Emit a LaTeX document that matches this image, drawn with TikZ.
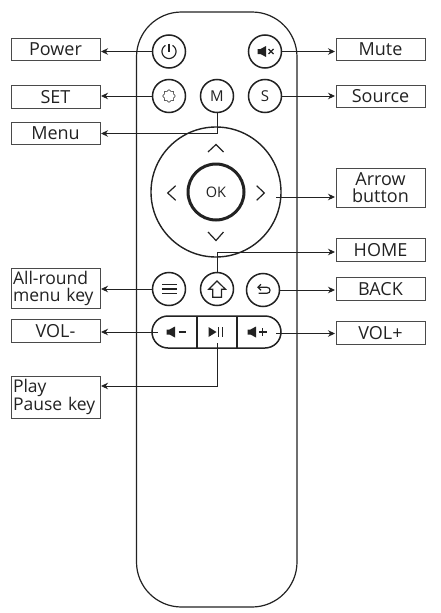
\documentclass[tikz,border=0pt]{standalone}
\usepackage{fontspec}
\setmainfont{Open Sans}
\usepackage{xcolor}
\usetikzlibrary{arrows.meta,positioning,calc}
\definecolor{RemoteInk}{HTML}{222222}
\definecolor{RemoteRule}{HTML}{4A4A4A}

\begin{document}
\begin{tikzpicture}[
  x=1pt,y=-1pt,
  shell/.style={draw=RemoteInk,line width=1.2pt,rounded corners=45pt,minimum width=160.5pt,minimum height=595pt,inner sep=0pt},
  btn/.style={circle,draw=RemoteInk,line width=1.5pt,minimum size=33pt,inner sep=0pt,text=RemoteInk,font=\fontsize{15}{15}\selectfont},
  slot/.style={inner sep=0pt,minimum width=#1,minimum height=22pt},
  keybox/.style={draw=RemoteRule,line width=1pt,minimum width=89pt,minimum height=22.5pt,inner sep=0pt,outer sep=1pt,align=center,text=RemoteInk,font=\fontsize{18}{17}\selectfont},
  tallbox/.style={keybox,text width=85pt,inner xsep=2pt,align=left,font=\fontsize{17.5}{17}\selectfont},
  lead/.style={-{Stealth[length=7pt,width=6.5pt]},draw=RemoteInk,line width=0.9pt},
  glyph/.style={draw=RemoteInk,line width=1.2pt},
  spk/.pic={\fill[RemoteInk] (-4.5,-2.5) -- (-1.5,-2.5) -- (4,-5.5) -- (4,5.5) -- (-1.5,2.5) -- (-4.5,2.5) -- cycle;}
]
\useasboundingbox (0,0) rectangle (441,613);
\node[shell] (body) at (216.75,309.5) {};

\node[btn] (power) at (169,51.5) {};
\node[btn] (mute) at (265,51.5) {};
\node[btn] (set) at (169,96) {};
\node[btn] (menu) at (217,96) {M};
\node[btn] (source) at (265,96) {S};
\node[circle,draw=RemoteInk,line width=1.4pt,minimum size=130pt,inner sep=0pt] (dpad) at (216,192) {};
\node[circle,draw=RemoteInk,line width=3pt,minimum size=56pt,inner sep=0pt,text=RemoteInk,font=\fontsize{14.5}{14.5}\selectfont] (ok) at (216,192) {OK};
\node[btn] (allround) at (169,289) {};
\node[btn] (home) at (217,289) {};
\node[btn] (back) at (263,290) {};
\node[draw=RemoteInk,line width=1.5pt,rounded corners=16pt,minimum width=129pt,minimum height=32pt,inner sep=0pt] (volbar) at (216.5,332) {};
\draw[RemoteInk,line width=1.8pt] (197,316) -- (197,348);
\draw[RemoteInk,line width=1.8pt] (237,316) -- (237,348);
\node[slot=36pt] (volminus) at (176,332) {};
\node[slot=22pt] (playbtn) at (217,332) {};
\node[slot=34pt] (volplus) at (259,333.5) {};
\coordinate (arrowout) at (276,197);

\node[keybox] (powerkey) at (55.5,49.5) {Power};
\node[keybox] (setkey) at (55.5,97) {SET};
\node[keybox] (menukey) at (55.5,133.5) {Menu};
\node[tallbox,minimum height=40pt] (allkey) at (55.5,288) {All-round\\menu key};
\node[keybox] (volmkey) at (55.5,331) {VOL-};
\node[tallbox,minimum height=42pt] (playkey) at (55.5,397) {Play\\Pause key};
\node[keybox] (mutekey) at (380.5,49.5) {Mute};
\node[keybox] (sourcekey) at (380.5,96.5) {Source};
\node[keybox,minimum height=39pt] (arrowkey) at (380.5,187.5) {Arrow\\button};
\node[keybox] (homekey) at (380.5,250) {HOME};
\node[keybox] (backkey) at (380.5,289) {BACK};
\node[keybox] (volpkey) at (380.5,333) {VOL+};

\draw[lead] (power) -- (powerkey.east |- power);
\draw[lead] (set) -- (setkey.east |- set);
\draw[lead] (menu.south) |- (menukey.east);
\draw[lead] (allround) -- (allkey.east |- allround);
\draw[lead] (volminus.west) -- (volmkey.east |- volminus);
\draw[lead] (playbtn.south) |- ([yshift=11pt]playkey.east);
\draw[lead] (mute) -- (mutekey.west |- mute);
\draw[lead] (source) -- (sourcekey.west |- source);
\draw[lead] (arrowout) -- (arrowkey.west |- arrowout);
\draw[lead] (home.north) |- ([yshift=-2pt]homekey.west);
\draw[lead] (back) -- (backkey.west |- back);
\draw[lead] (volplus.east) -- (volpkey.west |- volplus);

\draw[glyph] (169,43.5) -- (169,51.5);
\draw[glyph] plot[domain=30:330,samples=41,smooth] ({169+7*sin(\x)},{51.5-7*cos(\x)});
\pic at (262,51.5) {spk};
\draw[RemoteInk,line width=1.2pt] (268.5,49) -- (273.5,54) (268.5,54) -- (273.5,49);
\draw[RemoteInk,line width=0.6pt] plot[domain=0:360,samples=73,smooth] ({169+(5.6+0.6*cos(8*\x))*cos(\x)},{96+(5.6+0.6*cos(8*\x))*sin(\x)});

\draw[glyph] (208,152) -- (216,144.5) -- (223.5,152);
\draw[glyph] (208,232) -- (216,240.5) -- (223.5,232);
\draw[glyph] (175.7,185.7) -- (167.7,193) -- (175.7,200.3);
\draw[glyph] (256.7,185.7) -- (264.3,193) -- (256.7,200.3);

\foreach \ly in {284.5,289,293.5}
  \draw[RemoteInk,line width=1.6pt] (162,\ly) -- (177,\ly);
\draw[glyph,line join=miter] (217,281) -- (225.5,289.3) -- (221.5,289.3) -- (221.5,297.3) -- (212.7,297.3) -- (212.7,289.3) -- (208.7,289.3) -- cycle;
\draw[glyph] (258,287.3) -- (267,287.3) .. controls (271,287.3) and (271,293.3) .. (267,293.3) -- (258.5,293.3);
\draw[glyph] (261,284.3) -- (258,287.3) -- (261,290.3);

\pic at (171,332) {spk};
\draw[RemoteInk,line width=1.3pt] (178.5,332) -- (186,332);
\fill[RemoteInk] (208.5,327) -- (216.5,332) -- (208.5,337) -- cycle;
\draw[RemoteInk,line width=1.3pt] (218.5,327) -- (218.5,337) (222.5,327) -- (222.5,337);
\pic at (252,332) {spk};
\draw[RemoteInk,line width=1.3pt] (259,332) -- (266.5,332) (262.75,328.2) -- (262.75,335.8);
\end{tikzpicture}
\end{document}
